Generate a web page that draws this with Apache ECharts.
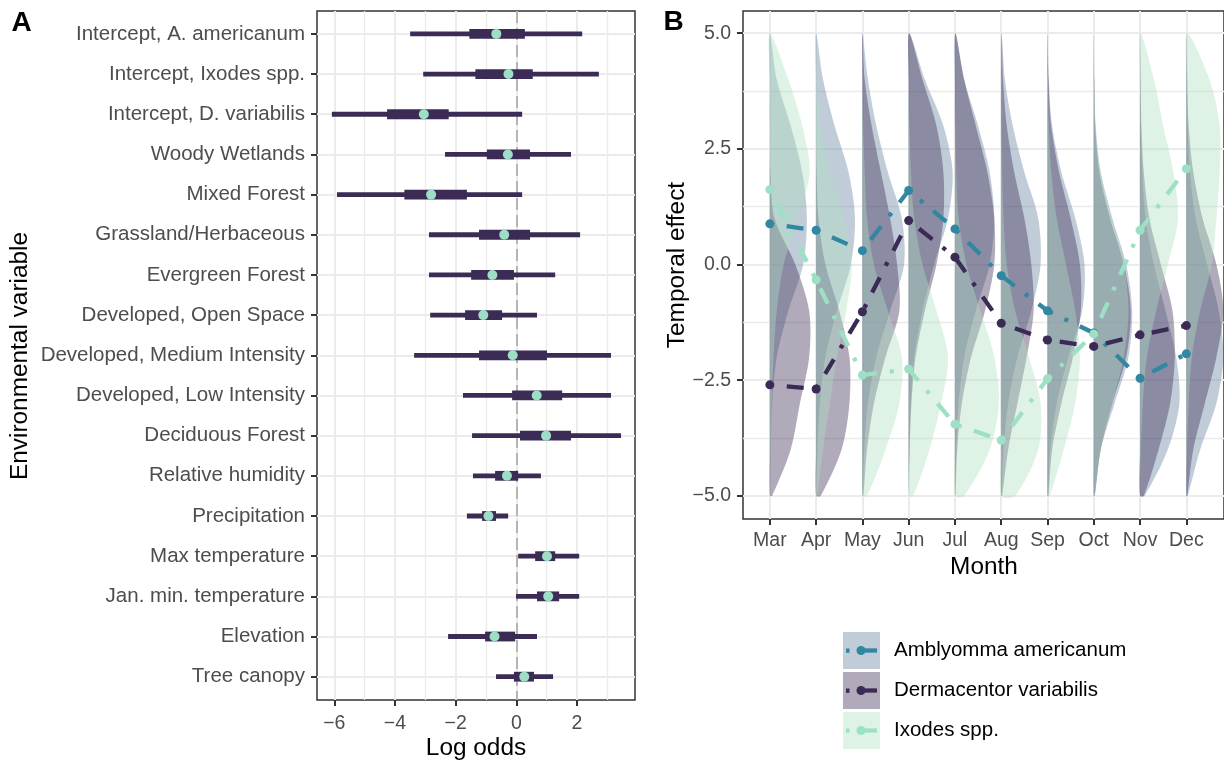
<!DOCTYPE html>
<html>
<head>
<meta charset="utf-8">
<title>Tick habitat and seasonality</title>
<script src="https://cdn.jsdelivr.net/npm/echarts@6.0.0/dist/echarts.min.js"></script>
<style>
html, body { margin: 0; padding: 0; background: #fff; }
#chart { width: 1224px; height: 761px; }
</style>
</head>
<body>
<div id="chart"></div>
<script>
// ---- panel A: log odds per environmental variable ----
const variables = [
    'Intercept, A. americanum', 'Intercept, Ixodes spp.', 'Intercept, D. variabilis',
    'Woody Wetlands', 'Mixed Forest', 'Grassland/Herbaceous', 'Evergreen Forest',
    'Developed, Open Space', 'Developed, Medium Intensity', 'Developed, Low Intensity',
    'Deciduous Forest', 'Relative humidity', 'Precipitation', 'Max temperature',
    'Jan. min. temperature', 'Elevation', 'Tree canopy'
];
const estimate  = [-0.66, -0.26, -3.05, -0.28, -2.81, -0.40, -0.79, -1.09, -0.12, 0.67, 0.98, -0.31, -0.92, 1.01, 1.05, -0.72, 0.26];
const innerLow  = [-1.55, -1.35, -4.26, -0.97, -3.69, -1.23, -1.49, -1.69, -1.23, -0.14, 0.12, -0.70, -1.13, 0.62, 0.68, -1.03, -0.08];
const innerHigh = [0.28, 0.54, -2.23, 0.45, -1.63, 0.45, -0.08, -0.47, 1.01, 1.51, 1.80, 0.06, -0.67, 1.28, 1.41, -0.04, 0.58];
const outerLow  = [-3.50, -3.07, -6.08, -2.35, -5.91, -2.88, -2.88, -2.84, -3.37, -1.76, -1.46, -1.43, -1.63, 0.06, -0.01, -2.25, -0.67];
const outerHigh = [2.17, 2.72, 0.19, 1.80, 0.19, 2.10, 1.28, 0.68, 3.12, 3.12, 3.45, 0.81, -0.27, 2.07, 2.07, 0.68, 1.21];
const oddsTicks = [-6, -4, -2, 0, 2];
const oddsMinor = [-5, -3, -1, 1, 3];

// ---- panel B: monthly temporal effect ----
const months = ['Mar', 'Apr', 'May', 'Jun', 'Jul', 'Aug', 'Sep', 'Oct', 'Nov', 'Dec'];
const species = ['Amblyomma americanum', 'Dermacentor variabilis', 'Ixodes spp.'];
const effectAmb = [0.88, 0.74, 0.30, 1.60, 0.77, -0.24, -1.00, -1.48, -2.46, -1.93];
const effectDer = [-2.60, -2.69, -1.02, 0.95, 0.16, -1.27, -1.63, -1.77, -1.52, -1.32];
const effectIxo = [1.62, -0.33, -2.39, -2.26, -3.45, -3.80, -2.47, -1.50, 0.74, 2.07];
const effectTicks = [-5, -2.5, 0, 2.5, 5];
const effectMinor = [-3.75, -1.25, 1.25, 3.75];

// half-violin widths (in month units) at each level
const levels = [5, 4, 3, 2, 1, 0, -1, -2, -3, -4, -5];
const widthAmb = [
    [0, 0.15, 0.45, 0.70, 0.80, 0.72, 0.40, 0.15, 0.05, 0.02, 0],
    [0, 0.15, 0.40, 0.70, 0.84, 0.75, 0.45, 0.20, 0.08, 0.03, 0],
    [0, 0.12, 0.30, 0.55, 0.85, 0.90, 0.60, 0.30, 0.12, 0.04, 0],
    [0.01, 0.35, 0.75, 0.95, 0.85, 0.55, 0.30, 0.12, 0.05, 0.02, 0],
    [0.01, 0.20, 0.50, 0.75, 0.85, 0.75, 0.45, 0.20, 0.08, 0.03, 0],
    [0.01, 0.08, 0.25, 0.50, 0.80, 0.85, 0.65, 0.35, 0.15, 0.05, 0.01],
    [0, 0.03, 0.10, 0.30, 0.60, 0.80, 0.75, 0.45, 0.20, 0.06, 0.01],
    [0, 0.01, 0.04, 0.15, 0.40, 0.70, 0.83, 0.75, 0.45, 0.15, 0.02],
    [0, 0.01, 0.02, 0.05, 0.12, 0.30, 0.55, 0.78, 0.85, 0.60, 0.10],
    [0, 0.01, 0.03, 0.08, 0.20, 0.45, 0.70, 0.80, 0.65, 0.30, 0.03]
];
const widthDer = [
    [0, 0, 0, 0.01, 0.10, 0.55, 0.85, 0.85, 0.65, 0.45, 0.05],
    [0, 0, 0, 0.01, 0.05, 0.20, 0.50, 0.72, 0.72, 0.55, 0.10],
    [0, 0.05, 0.20, 0.40, 0.60, 0.75, 0.80, 0.50, 0.25, 0.10, 0.02],
    [0.01, 0.30, 0.60, 0.75, 0.75, 0.60, 0.35, 0.15, 0.06, 0.02, 0],
    [0.01, 0.20, 0.45, 0.70, 0.85, 0.85, 0.65, 0.35, 0.15, 0.05, 0.01],
    [0.01, 0.04, 0.12, 0.28, 0.50, 0.65, 0.70, 0.55, 0.35, 0.15, 0.02],
    [0, 0.02, 0.08, 0.25, 0.50, 0.70, 0.72, 0.55, 0.30, 0.10, 0.02],
    [0, 0.01, 0.03, 0.12, 0.35, 0.65, 0.80, 0.70, 0.40, 0.15, 0.02],
    [0, 0.01, 0.03, 0.08, 0.20, 0.45, 0.70, 0.75, 0.65, 0.40, 0.08],
    [0, 0.02, 0.05, 0.15, 0.35, 0.65, 0.80, 0.65, 0.40, 0.15, 0.02]
];
const widthIxo = [
    [0, 0.40, 0.70, 0.86, 0.60, 0.30, 0.15, 0.08, 0.04, 0.02, 0],
    [0, 0.02, 0.10, 0.30, 0.60, 0.77, 0.65, 0.45, 0.30, 0.15, 0.02],
    [0, 0, 0.02, 0.05, 0.10, 0.25, 0.55, 0.85, 0.80, 0.50, 0.10],
    [0, 0, 0.02, 0.05, 0.12, 0.30, 0.60, 0.85, 0.70, 0.45, 0.10],
    [0, 0, 0.01, 0.03, 0.08, 0.25, 0.55, 0.85, 0.95, 0.75, 0.20],
    [0, 0, 0, 0.02, 0.05, 0.12, 0.30, 0.60, 0.85, 0.80, 0.30],
    [0, 0.01, 0.03, 0.08, 0.20, 0.40, 0.60, 0.70, 0.60, 0.35, 0.05],
    [0, 0.01, 0.04, 0.15, 0.40, 0.65, 0.75, 0.65, 0.40, 0.15, 0.02],
    [0.01, 0.30, 0.50, 0.72, 0.82, 0.60, 0.35, 0.15, 0.06, 0.02, 0],
    [0.02, 0.50, 0.72, 0.72, 0.65, 0.55, 0.30, 0.12, 0.05, 0.02, 0]
];

const FONT = "'Liberation Sans', Arial, Helvetica, sans-serif";
const GRID = '#ebebeb';
const INK = '#333333';
const LABEL = '#4d4d4d';
const BAR = '#3b2b55';
const DOT = '#9cdfc5';
const lineColors = ['#3187a2', '#3b2a55', '#9de0c6'];
const fillColors = ['rgba(100,128,160,0.4)', 'rgba(59,42,85,0.4)', 'rgba(172,222,192,0.4)'];

const minusFmt = function (v, digits) {
    let s = digits ? Math.abs(v).toFixed(digits) : String(Math.abs(v));
    return (v < 0 ? '\u2212' : '') + s;
};

const noLine = { show: false, onZero: false };
const tickStyle = { show: true, length: 6, lineStyle: { color: INK, width: 2 } };
const labelStyle = { color: LABEL, fontSize: 19.5, fontFamily: FONT };

// 半边小提琴
const violin = function (name, widths, fill) {
    return {
        name: name,
        type: 'custom',
        xAxisIndex: 2,
        yAxisIndex: 1,
        clip: true,
        silent: true,
        z: 2,
        data: months.map(function (m, i) { return [i, 0]; }),
        encode: { x: 0, y: 1 },
        renderItem: function (params, api) {
            const i = api.value(0);
            const w = widths[i];
            const pts = [];
            levels.forEach(function (y, k) { pts.push(api.coord([i + w[k], y])); });
            for (let k = levels.length - 1; k > 0; k--) pts.push(api.coord([i, levels[k]]));
            return { type: 'polygon', shape: { points: pts, smooth: 0.3 }, style: { fill: fill } };
        }
    };
};

const effectLine = function (name, values, color) {
    return {
        name: name,
        type: 'line',
        xAxisIndex: 2,
        yAxisIndex: 1,
        z: 4,
        silent: true,
        symbol: 'circle',
        symbolSize: 9,
        showAllSymbol: true,
        data: values.map(function (v, i) { return [i, v]; }),
        itemStyle: { color: color },
        lineStyle: { color: color, width: 4.3, type: [4, 13, 17, 13], cap: 'butt' }
    };
};

const legendKeys = [];
species.forEach(function (name, k) {
    const top = 632 + k * 40;
    const mid = top + 18.5;
    legendKeys.push(
        { type: 'rect', shape: { x: 843, y: top, width: 37, height: 37 }, style: { fill: '#fff' } },
        { type: 'rect', shape: { x: 843, y: top, width: 37, height: 37 }, style: { fill: fillColors[k] } },
        { type: 'rect', shape: { x: 846, y: mid - 2, width: 3.5, height: 4.3 }, style: { fill: lineColors[k] } },
        { type: 'rect', shape: { x: 861, y: mid - 2.15, width: 16, height: 4.3 }, style: { fill: lineColors[k] } },
        { type: 'circle', shape: { cx: 861, cy: mid, r: 4.5 }, style: { fill: lineColors[k] } },
        { type: 'text', x: 894, y: mid, style: { text: name, fill: '#000', fontSize: 20.5, fontFamily: FONT, textVerticalAlign: 'middle' } }
    );
});

const myChart = echarts.init(document.getElementById('chart'));

const option = {
    animation: false,
    backgroundColor: '#fff',
    grid: [
        { left: 317, top: 11, width: 318, height: 689, show: true, borderColor: INK, borderWidth: 1.5, backgroundColor: 'transparent' },
        { left: 743, top: 11, width: 483, height: 508, show: true, borderColor: INK, borderWidth: 1.5, backgroundColor: 'transparent' }
    ],
    xAxis: [
        {
            gridIndex: 0, type: 'value', min: -6.57, max: 3.91, position: 'bottom',
            axisLine: noLine,
            axisTick: Object.assign({ customValues: oddsTicks }, tickStyle),
            axisLabel: Object.assign({ customValues: oddsTicks, margin: 14, formatter: function (v) { return minusFmt(v); } }, labelStyle),
            splitLine: { show: true, lineStyle: { color: GRID, width: 2 } }
        },
        {
            gridIndex: 0, type: 'value', min: -6.57, max: 3.91, position: 'bottom',
            axisLine: noLine,
            axisTick: { show: false, customValues: oddsMinor },
            axisLabel: { show: false, customValues: oddsMinor },
            splitLine: { show: true, lineStyle: { color: GRID, width: 1.3 } }
        },
        {
            gridIndex: 1, type: 'value', min: -0.58, max: 9.814, position: 'bottom',
            axisLine: noLine,
            axisTick: Object.assign({ customValues: months.map(function (m, i) { return i; }) }, tickStyle),
            axisLabel: Object.assign({ customValues: months.map(function (m, i) { return i; }), margin: 12, formatter: function (v) { return months[v]; } }, labelStyle),
            splitLine: { show: true, lineStyle: { color: GRID, width: 2 } }
        }
    ],
    yAxis: [
        {
            gridIndex: 0, type: 'value', inverse: true, min: -0.57, max: 16.58, position: 'left',
            axisLine: noLine,
            axisTick: Object.assign({ customValues: variables.map(function (v, i) { return i; }) }, tickStyle),
            axisLabel: Object.assign({ customValues: variables.map(function (v, i) { return i; }), margin: 12, formatter: function (v) { return variables[v]; } }, labelStyle, { fontSize: 20.5 }),
            splitLine: { show: true, lineStyle: { color: GRID, width: 2 } }
        },
        {
            gridIndex: 1, type: 'value', min: -5.5, max: 5.48, position: 'left',
            axisLine: noLine,
            axisTick: Object.assign({ customValues: effectTicks }, tickStyle),
            axisLabel: Object.assign({ customValues: effectTicks, margin: 12, formatter: function (v) { return minusFmt(v, 1); } }, labelStyle),
            splitLine: { show: true, lineStyle: { color: GRID, width: 2 } }
        },
        {
            gridIndex: 1, type: 'value', min: -5.5, max: 5.48, position: 'left',
            axisLine: noLine,
            axisTick: { show: false, customValues: effectMinor },
            axisLabel: { show: false, customValues: effectMinor },
            splitLine: { show: true, lineStyle: { color: GRID, width: 1.3 } }
        }
    ],
    series: [
        {
            name: 'interval',
            type: 'custom',
            xAxisIndex: 0,
            yAxisIndex: 0,
            silent: true,
            z: 2,
            data: variables.map(function (v, i) { return [i, outerLow[i], outerHigh[i], innerLow[i], innerHigh[i]]; }),
            encode: { y: 0, x: [1, 2] },
            renderItem: function (params, api) {
                const row = api.value(0);
                const o1 = api.coord([api.value(1), row]);
                const o2 = api.coord([api.value(2), row]);
                const i1 = api.coord([api.value(3), row]);
                const i2 = api.coord([api.value(4), row]);
                return {
                    type: 'group',
                    children: [
                        { type: 'rect', shape: { x: o1[0], y: o1[1] - 2.4, width: o2[0] - o1[0], height: 4.8 }, style: { fill: BAR } },
                        { type: 'rect', shape: { x: i1[0], y: i1[1] - 4.9, width: i2[0] - i1[0], height: 9.8 }, style: { fill: BAR } }
                    ]
                };
            }
        },
        {
            name: 'estimate',
            type: 'scatter',
            xAxisIndex: 0,
            yAxisIndex: 0,
            silent: true,
            z: 3,
            symbolSize: 10,
            itemStyle: { color: DOT, opacity: 1 },
            data: variables.map(function (v, i) { return [estimate[i], i]; }),
            markLine: {
                silent: true,
                z: 1,
                symbol: ['none', 'none'],
                label: { show: false },
                lineStyle: { color: '#b5b5b5', width: 2, type: [12, 5] },
                data: [{ xAxis: 0 }]
            }
        },
        violin(species[0], widthAmb, fillColors[0]),
        violin(species[1], widthDer, fillColors[1]),
        violin(species[2], widthIxo, fillColors[2]),
        effectLine(species[0], effectAmb, lineColors[0]),
        effectLine(species[1], effectDer, lineColors[1]),
        effectLine(species[2], effectIxo, lineColors[2])
    ],
    graphic: [
        { type: 'text', x: 21.5, y: 23, style: { text: 'A', fill: '#000', fontSize: 28, fontWeight: 'bold', fontFamily: FONT, textAlign: 'center', textVerticalAlign: 'middle' } },
        { type: 'text', x: 673.5, y: 22, style: { text: 'B', fill: '#000', fontSize: 28, fontWeight: 'bold', fontFamily: FONT, textAlign: 'center', textVerticalAlign: 'middle' } },
        { type: 'text', x: 476, y: 748, style: { text: 'Log odds', fill: '#000', fontSize: 24.4, fontFamily: FONT, textAlign: 'center', textVerticalAlign: 'middle' } },
        { type: 'text', x: 20, y: 356, rotation: Math.PI / 2, style: { text: 'Environmental variable', fill: '#000', fontSize: 24.4, fontFamily: FONT, textAlign: 'center', textVerticalAlign: 'middle' } },
        { type: 'text', x: 984, y: 567, style: { text: 'Month', fill: '#000', fontSize: 24.4, fontFamily: FONT, textAlign: 'center', textVerticalAlign: 'middle' } },
        { type: 'text', x: 677, y: 265, rotation: Math.PI / 2, style: { text: 'Temporal effect', fill: '#000', fontSize: 24.4, fontFamily: FONT, textAlign: 'center', textVerticalAlign: 'middle' } }
    ].concat(legendKeys)
};

myChart.setOption(option);
</script>
</body>
</html>
